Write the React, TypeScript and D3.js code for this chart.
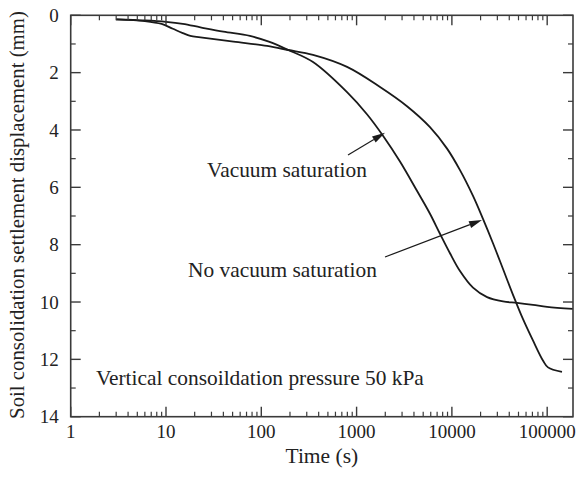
import React from "react";
import * as d3 from "d3";

const vacuumTime = [3, 6, 10, 15, 23, 40, 76, 120, 192, 349, 794, 1285, 1893, 2853, 4300, 5890, 7500, 9550, 12160, 16660, 23400, 34400, 48300, 71100, 99800, 186000];
const vacuumDisp = [0.14, 0.18, 0.23, 0.3, 0.42, 0.57, 0.72, 0.92, 1.21, 1.63, 2.68, 3.45, 4.2, 5.1, 6.12, 6.92, 7.62, 8.3, 8.92, 9.5, 9.83, 9.98, 10.03, 10.1, 10.17, 10.24];

const noVacuumTime = [3, 6, 9, 11.8, 15, 18, 23, 51, 115, 192, 349, 794, 1762, 3380, 5890, 8900, 12160, 16660, 21200, 27000, 34400, 43800, 55800, 71100, 90600, 102000, 143000];
const noVacuumDisp = [0.14, 0.2, 0.3, 0.47, 0.62, 0.72, 0.77, 0.92, 1.07, 1.21, 1.38, 1.8, 2.5, 3.17, 3.9, 4.65, 5.4, 6.3, 7.1, 7.95, 8.85, 9.75, 10.6, 11.35, 12.05, 12.28, 12.44];

const xTickValues = [1, 10, 100, 1000, 10000, 100000];
const xTickLabels = ["1", "10", "100", "1000", "10000", "100000"];
const yTickValues = [0, 2, 4, 6, 8, 10, 12, 14];
const yMinorValues = [1, 3, 5, 7, 9, 11, 13];

const annotationTexts = ["Vacuum saturation", "No vacuum saturation", "Vertical consoildation pressure 50 kPa"];
const annotationX = [27, 17, 1.84];
const annotationY = [5.64, 9.13, 12.9];

// arrows: tail and tip in data units
const arrowTailT = [813, 1987];
const arrowTailMm = [4.87, 8.43];
const arrowTipT = [1987, 20700];
const arrowTipMm = [4.1, 7.14];

const W = 577;
const H = 477;
const left = 70.7;
const right = 573;
const top = 15.3;
const bottom = 416.7;

export default function App() {
  const x = d3.scaleLog().domain([1, 186600]).range([left, right]);
  const y = d3.scaleLinear().domain([0, 14]).range([top, bottom]);

  const minorX: number[] = [];
  for (let e = 0; e <= 5; e++) {
    for (let m = 2; m <= 9; m++) {
      const v = m * Math.pow(10, e);
      if (v < 186600) minorX.push(v);
    }
  }

  const line = d3
    .line<[number, number]>()
    .x((d) => x(d[0]))
    .y((d) => y(d[1]))
    .curve(d3.curveCatmullRom.alpha(0.5));

  const vac = vacuumTime.map((t, i) => [t, vacuumDisp[i]] as [number, number]);
  const nov = noVacuumTime.map((t, i) => [t, noVacuumDisp[i]] as [number, number]);

  const axisColor = "#3a3a3a";
  const textColor = "#222";
  const font = "'Liberation Serif', 'Times New Roman', serif";

  const arrows = arrowTailT.map((_, i) => {
    const x1 = x(arrowTailT[i]);
    const y1 = y(arrowTailMm[i]);
    const x2 = x(arrowTipT[i]);
    const y2 = y(arrowTipMm[i]);
    const ang = Math.atan2(y2 - y1, x2 - x1);
    const len = 13;
    const hw = 3.6;
    const bx = x2 - len * Math.cos(ang);
    const by = y2 - len * Math.sin(ang);
    const px = -Math.sin(ang) * hw;
    const py = Math.cos(ang) * hw;
    return { x1, y1, bx, by, x2, y2, px, py };
  });

  return (
    <svg
      width={W}
      height={H}
      style={{ position: "absolute", left: 0, top: 0, background: "#fff" }}
      fontFamily={font}
    >
      <rect x={0} y={0} width={W} height={H} fill="#fff" />
      <path d={line(vac) || ""} fill="none" stroke="#1a1a1a" strokeWidth={1.8} />
      <path d={line(nov) || ""} fill="none" stroke="#1a1a1a" strokeWidth={1.8} />

      <rect x={left} y={top} width={right - left} height={bottom - top} fill="none" stroke={axisColor} strokeWidth={1.6} />

      {xTickValues.map((v) => (
        <g key={"xt" + v}>
          <line x1={x(v)} x2={x(v)} y1={bottom} y2={bottom - 10} stroke={axisColor} strokeWidth={1.4} />
          <line x1={x(v)} x2={x(v)} y1={top} y2={top + 10} stroke={axisColor} strokeWidth={1.4} />
        </g>
      ))}
      {minorX.map((v) => (
        <g key={"xm" + v}>
          <line x1={x(v)} x2={x(v)} y1={bottom} y2={bottom - 5} stroke={axisColor} strokeWidth={1.2} />
          <line x1={x(v)} x2={x(v)} y1={top} y2={top + 5} stroke={axisColor} strokeWidth={1.2} />
        </g>
      ))}
      {xTickValues.map((v, i) => (
        <text key={"xl" + v} x={x(v)} y={bottom + 21} textAnchor="middle" fontSize={19} fill={textColor}>
          {xTickLabels[i]}
        </text>
      ))}

      {yTickValues.map((v) => (
        <g key={"yt" + v}>
          <line x1={left} x2={left + 10} y1={y(v)} y2={y(v)} stroke={axisColor} strokeWidth={1.4} />
          <line x1={right} x2={right - 10} y1={y(v)} y2={y(v)} stroke={axisColor} strokeWidth={1.4} />
          <text x={left - 12} y={y(v)} dy="0.35em" textAnchor="end" fontSize={19} fill={textColor}>
            {v}
          </text>
        </g>
      ))}
      {yMinorValues.map((v) => (
        <g key={"ym" + v}>
          <line x1={left} x2={left + 5} y1={y(v)} y2={y(v)} stroke={axisColor} strokeWidth={1.2} />
          <line x1={right} x2={right - 5} y1={y(v)} y2={y(v)} stroke={axisColor} strokeWidth={1.2} />
        </g>
      ))}

      <text x={(left + right) / 2} y={463} textAnchor="middle" fontSize={21.5} fill={textColor}>
        Time (s)
      </text>
      <text
        transform={`translate(24, ${(top + bottom) / 2 - 1}) rotate(-90)`}
        textAnchor="middle"
        fontSize={20.8}
        fill={textColor}
      >
        Soil consolidation settlement displacement (mm)
      </text>

      {annotationTexts.map((t, i) => (
        <text key={"an" + i} x={x(annotationX[i])} y={y(annotationY[i])} fontSize={21.4} fill={textColor}>
          {t}
        </text>
      ))}
      {arrows.map((a, i) => (
        <g key={"ar" + i}>
          <line x1={a.x1} y1={a.y1} x2={a.bx} y2={a.by} stroke="#1a1a1a" strokeWidth={1.2} />
          <polygon
            points={`${a.x2},${a.y2} ${a.bx + a.px},${a.by + a.py} ${a.bx - a.px},${a.by - a.py}`}
            fill="#1a1a1a"
          />
        </g>
      ))}
    </svg>
  );
}
